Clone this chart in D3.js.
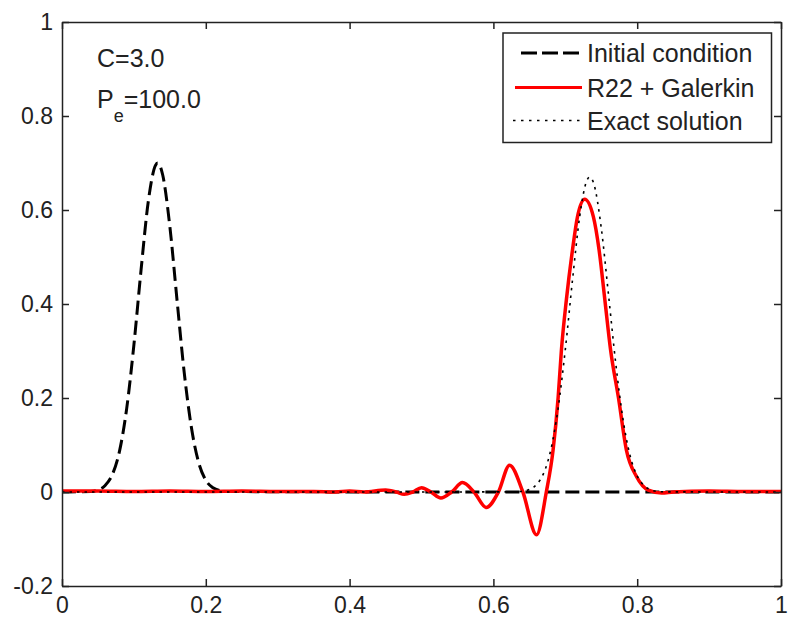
<!DOCTYPE html>
<html>
<head>
<meta charset="utf-8">
<script src="https://cdn.jsdelivr.net/npm/d3@7"></script>
<style>
  html, body { margin: 0; padding: 0; background: #fff; }
  svg { display: block; }
  text { font-family: "Liberation Sans", Arial, Helvetica, sans-serif; fill: #222; }
</style>
</head>
<body>
<svg id="chart" width="792" height="625"></svg>
<script>
// ---- data ----
const xTicks = [0, 0.2, 0.4, 0.6, 0.8, 1];
const yTicks = [-0.2, 0, 0.2, 0.4, 0.6, 0.8, 1];
const xTickLabels = ["0", "0.2", "0.4", "0.6", "0.8", "1"];
const yTickLabels = ["-0.2", "0", "0.2", "0.4", "0.6", "0.8", "1"];

const seriesNames = ["Initial condition", "R22 + Galerkin", "Exact solution"];

// Initial condition
const initX = [0, 0.04, 0.05, 0.06, 0.07, 0.08, 0.09, 0.10, 0.11, 0.12, 0.13, 0.133, 0.14, 0.15, 0.16, 0.17, 0.18, 0.19, 0.20, 0.21, 0.22, 0.23, 0.5, 1.0];
const initY = [0, 0.001, 0.004, 0.014, 0.037, 0.087, 0.178, 0.313, 0.473, 0.618, 0.695, 0.700, 0.675, 0.565, 0.408, 0.254, 0.137, 0.063, 0.025, 0.009, 0.003, 0.001, 0, 0];

// R22 + Galerkin
const redX = [0, 0.05, 0.10, 0.15, 0.20, 0.25, 0.30, 0.35, 0.38, 0.40, 0.42, 0.45, 0.465, 0.476, 0.488, 0.50, 0.513, 0.527, 0.542, 0.557, 0.573, 0.590, 0.607, 0.6225, 0.641, 0.660, 0.6736, 0.683, 0.690, 0.6946, 0.7015, 0.710, 0.717, 0.727, 0.739, 0.747, 0.755, 0.763, 0.774, 0.785, 0.799, 0.8155, 0.834, 0.85, 0.90, 0.95, 1.0];
const redY = [0.002, 0.002, 0.001, 0.002, 0.001, 0.002, 0.001, 0.001, 0.000, 0.002, 0.000, 0.004, 0.0, -0.005, 0.0, 0.009, 0.0, -0.013, 0.0, 0.020, 0.0, -0.033, 0.0, 0.057, 0.0, -0.091, 0.0, 0.089, 0.200, 0.302, 0.409, 0.515, 0.586, 0.623, 0.586, 0.515, 0.409, 0.302, 0.200, 0.089, 0.033, 0.004, -0.002, 0.0, 0.002, 0.001, 0.001];

// Exact solution
const exactX = [0, 0.5, 0.63, 0.64, 0.65, 0.66, 0.67, 0.68, 0.69, 0.70, 0.71, 0.72, 0.73, 0.734, 0.74, 0.75, 0.76, 0.77, 0.78, 0.79, 0.80, 0.81, 0.82, 0.83, 0.84, 1.0];
const exactY = [0, 0, 0.0004, 0.0016, 0.0053, 0.0157, 0.0404, 0.0907, 0.178, 0.303, 0.451, 0.586, 0.663, 0.670, 0.654, 0.562, 0.421, 0.276, 0.157, 0.078, 0.034, 0.013, 0.004, 0.001, 0.0003, 0];

const annotC = "C=3.0";
const annotP = ["P", "e", "=100.0"];

// ---- drawing ----
const svg = d3.select("#chart");
const mLeft = 62, mRight = 781, mTop = 22, mBottom = 586;

const x = d3.scaleLinear().domain([0, 1]).range([mLeft, mRight]);
const y = d3.scaleLinear().domain([-0.2, 1]).range([mBottom, mTop]);

const clipId = "plotclip";
svg.append("defs").append("clipPath").attr("id", clipId)
  .append("rect").attr("x", mLeft).attr("y", mTop).attr("width", mRight - mLeft).attr("height", mBottom - mTop);

const line = d3.line().x(d => x(d[0])).y(d => y(d[1])).curve(d3.curveMonotoneX);
const zip = (a, b) => a.map((v, i) => [v, b[i]]);

const plot = svg.append("g").attr("clip-path", `url(#${clipId})`);

plot.append("path").datum(zip(initX, initY))
  .attr("d", line).attr("fill", "none").attr("stroke", "#000")
  .attr("stroke-width", 3).attr("stroke-dasharray", "14,6");

plot.append("path").datum(zip(redX, redY))
  .attr("d", line).attr("fill", "none").attr("stroke", "#ff0000")
  .attr("stroke-width", 3.5).attr("stroke-linejoin", "round");

plot.append("path").datum(zip(exactX, exactY))
  .attr("d", line).attr("fill", "none").attr("stroke", "#000")
  .attr("stroke-width", 1.6).attr("stroke-dasharray", "2.5,5");

// axes (box with inward ticks)
const tickLen = 7;
const axisColor = "#222";
const fmtX = (d, i) => xTickLabels[i];
const fmtY = (d, i) => yTickLabels[i];

const gB = svg.append("g").attr("transform", `translate(0,${mBottom})`)
  .call(d3.axisBottom(x).tickValues(xTicks).tickFormat(fmtX).tickSizeInner(-tickLen).tickSizeOuter(0).tickPadding(12));
const gT = svg.append("g").attr("transform", `translate(0,${mTop})`)
  .call(d3.axisTop(x).tickValues(xTicks).tickFormat("").tickSizeInner(-tickLen).tickSizeOuter(0));
const gL = svg.append("g").attr("transform", `translate(${mLeft},0)`)
  .call(d3.axisLeft(y).tickValues(yTicks).tickFormat(fmtY).tickSizeInner(-tickLen).tickSizeOuter(0).tickPadding(10));
const gR = svg.append("g").attr("transform", `translate(${mRight},0)`)
  .call(d3.axisRight(y).tickValues(yTicks).tickFormat("").tickSizeInner(-tickLen).tickSizeOuter(0));

[gB, gT, gL, gR].forEach(g => {
  g.select(".domain").attr("stroke", axisColor).attr("stroke-width", 1.5);
  g.selectAll(".tick line").attr("stroke", axisColor).attr("stroke-width", 1.5);
  g.selectAll(".tick text").style("font-size", "23px").style("font-family", '"Liberation Sans", Arial, sans-serif').attr("fill", "#222");
});
gB.selectAll(".tick text").attr("dy", "0.71em").attr("y", 11);
gL.selectAll(".tick text").attr("x", -9);

// annotations
svg.append("text").attr("x", 97).attr("y", 67).style("font-size", "25px").text(annotC);
const tP = svg.append("text").attr("x", 97).attr("y", 108).style("font-size", "25px");
tP.append("tspan").text(annotP[0]);
tP.append("tspan").attr("dy", 14).style("font-size", "18px").text(annotP[1]);
tP.append("tspan").attr("dy", -14).text(annotP[2]);

// legend
const lg = svg.append("g");
lg.append("rect").attr("x", 503).attr("y", 33).attr("width", 268.5).attr("height", 109.5)
  .attr("fill", "#fff").attr("stroke", "#222").attr("stroke-width", 1.5);
const rowsY = [53, 87.5, 120.5];
const styles = [
  { stroke: "#000", w: 3, dash: "16,5", x1: 521, x2: 582 },
  { stroke: "#ff0000", w: 3, dash: null, x1: 515, x2: 582 },
  { stroke: "#000", w: 1.6, dash: "2.5,5.5", x1: 513, x2: 583 }
];
seriesNames.forEach((name, i) => {
  const s = styles[i];
  const l = lg.append("line").attr("x1", s.x1).attr("x2", s.x2).attr("y1", rowsY[i]).attr("y2", rowsY[i])
    .attr("stroke", s.stroke).attr("stroke-width", s.w);
  if (s.dash) l.attr("stroke-dasharray", s.dash);
  lg.append("text").attr("x", 587).attr("y", rowsY[i] + 9).style("font-size", "25px").text(name);
});
</script>
</body>
</html>
